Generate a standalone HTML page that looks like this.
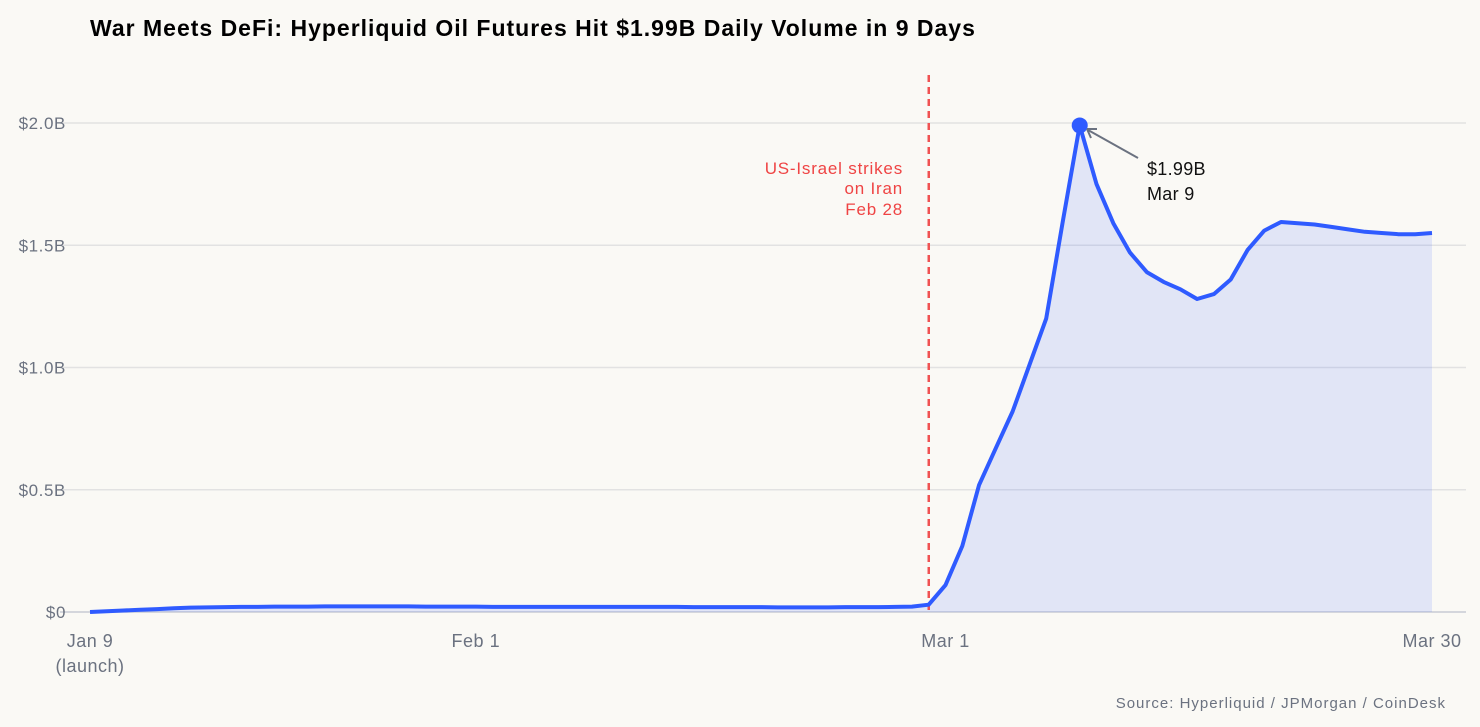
<!DOCTYPE html>
<html><head><meta charset="utf-8"><style>
body{margin:0;background:#faf9f5;font-family:"Liberation Sans",sans-serif}
svg{display:block}
</style></head><body>
<svg id="chart" width="1480" height="727" viewBox="0 0 1480 727">
<rect width="1480" height="727" fill="#faf9f5"/>
<text x="90" y="36" font-size="23" font-weight="bold" letter-spacing="1" fill="#000">War Meets DeFi: Hyperliquid Oil Futures Hit $1.99B Daily Volume in 9 Days</text>
<g id="grid"></g><g id="yticks"></g><g id="xticks"></g>
<path id="area" fill="rgba(47,91,255,0.12)"/>
<line id="event" stroke="#f05252" stroke-width="2.5" stroke-dasharray="7,5"/>
<g font-size="17" fill="#ef4444" text-anchor="end" letter-spacing="0.8">
<text x="903" y="174">US-Israel strikes</text><text x="903" y="194">on Iran</text><text x="903" y="215">Feb 28</text></g>
<path id="line" fill="none" stroke="#2f5bff" stroke-width="4" stroke-linejoin="round"/>
<circle id="peak" r="8" fill="#2f5bff"/>
<line x1="1138" y1="158" x2="1088" y2="130" stroke="#6b7280" stroke-width="2"/>
<path d="M1087 129 l10 0 M1087 129 l4 9" stroke="#6b7280" stroke-width="2" fill="none"/>
<g font-size="18" fill="#111" letter-spacing="0.3"><text x="1147" y="175">$1.99B</text><text x="1147" y="200">Mar 9</text></g>
<text x="1446" y="708" font-size="15" fill="#6b7280" text-anchor="end" letter-spacing="1">Source: Hyperliquid / JPMorgan / CoinDesk</text>
</svg>
<script>
const values=[0,0.003,0.006,0.009,0.012,0.015,0.018,0.019,0.02,0.021,0.021,0.022,0.022,0.022,0.023,0.023,0.023,0.023,0.023,0.023,0.022,0.022,0.022,0.022,0.021,0.021,0.021,0.021,0.021,0.021,0.021,0.021,0.021,0.021,0.021,0.021,0.02,0.02,0.02,0.02,0.02,0.019,0.019,0.019,0.019,0.02,0.02,0.02,0.021,0.022,0.03,
0.11,0.27,0.52,0.67,0.82,1.01,1.20,1.60,1.99,1.75,1.59,1.47,1.39,1.35,1.32,1.28,1.30,1.36,1.48,1.56,1.595,1.59,1.585,1.575,1.565,1.555,1.55,1.545,1.545,1.55];
const yTicks=[0,0.5,1.0,1.5,2.0];
const yLabels=["$0","$0.5B","$1.0B","$1.5B","$2.0B"];
const xTickDays=[0,23,51,80];
const xLabels=[["Jan 9","(launch)"],["Feb 1"],["Mar 1"],["Mar 30"]];
const eventDay=50;
const X=d=>90+d*16.775, Y=v=>612-v*244.5;
const ns="http://www.w3.org/2000/svg";
function mk(t,a,p){const e=document.createElementNS(ns,t);for(const k in a)e.setAttribute(k,a[k]);p.appendChild(e);return e;}
const g=document.getElementById('grid'),yt=document.getElementById('yticks'),xt=document.getElementById('xticks');
yTicks.forEach((v,i)=>{
 const l=mk('line',{x1:60,x2:1466,y1:Y(v),y2:Y(v),stroke:v===0?'#c8cbd3':'#e2e2e2','stroke-width':1.5},g);
 
 
 const t=mk('text',{x:66,y:Y(v)+6,'font-size':17,fill:'#6b7280','text-anchor':'end','letter-spacing':0.6},yt);
 t.textContent=yLabels[i];
 
 
});
xTickDays.forEach((d,i)=>{
 xLabels[i].forEach((s,j)=>{
  const t=mk('text',{x:X(d),y:647+j*25,'font-size':18,fill:'#6b7280','text-anchor':'middle','letter-spacing':0.5},xt);
  t.textContent=s;
  
  
 });
});
let p=values.map((v,i)=>(i?'L':'M')+X(i).toFixed(1)+' '+Y(v).toFixed(1)).join(' ');
document.getElementById('line').setAttribute('d',p);
document.getElementById('area').setAttribute('d',p+` L${X(values.length-1)} ${Y(0)} L${X(0)} ${Y(0)} Z`);
let mi=0;values.forEach((v,i)=>{if(v>values[mi])mi=i;});
const pk=document.getElementById('peak');pk.setAttribute('cx',X(mi));pk.setAttribute('cy',Y(values[mi]));
const ev=document.getElementById('event');ev.setAttribute('x1',X(eventDay));ev.setAttribute('x2',X(eventDay));ev.setAttribute('y1',75);ev.setAttribute('y2',612);
</script>
</body></html>
